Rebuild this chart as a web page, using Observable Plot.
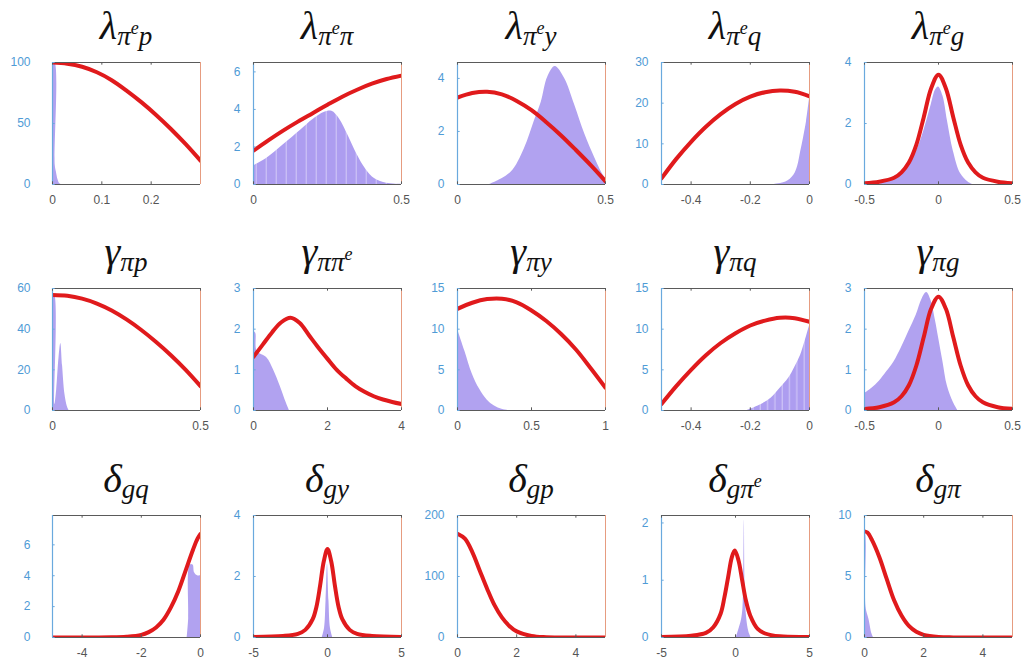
<!DOCTYPE html>
<html>
<head>
<meta charset="utf-8">
<script src="https://cdn.jsdelivr.net/npm/d3@7"></script>
<script src="https://cdn.jsdelivr.net/npm/@observablehq/plot@0.6"></script>
<style>
  body { margin: 0; background: #fff; }
  #fig { position: relative; width: 1029px; height: 669px; overflow: hidden; background: #fff; }
  #fig > svg.panel { position: absolute; }
  #titles { position: absolute; left: 0; top: 0; pointer-events: none; }
  #titles text { font-family: "Liberation Serif", serif; font-style: italic; }
</style>
</head>
<body>
<!-- stripe fills used for the binned histograms -->
<svg width="0" height="0" style="position:absolute">
  <defs>
    <pattern id="bins10" patternUnits="userSpaceOnUse" width="10" height="10">
      <rect width="10" height="10" fill="#ad9df0"></rect>
      <rect x="8.6" width="1.4" height="10" fill="#c8bdf5"></rect>
    </pattern>
    <pattern id="bins7" patternUnits="userSpaceOnUse" width="7.3" height="10">
      <rect width="7.3" height="10" fill="#ad9df0"></rect>
      <rect x="6" width="1.3" height="10" fill="#cbc1f6"></rect>
    </pattern>
  </defs>
</svg>
<div id="fig"></div>
<script>
// ---- Panel titles: base symbol and subscript tokens ("^" marks a superscript) ----
const titleBase = ["λ", "λ", "λ", "λ", "λ", "γ", "γ", "γ", "γ", "γ", "δ", "δ", "δ", "δ", "δ"];
const titleSub = [
  ["π", "^e", "p"], ["π", "^e", "π"], ["π", "^e", "y"], ["π", "^e", "q"], ["π", "^e", "g"],
  ["π", "p"], ["π", "π", "^e"], ["π", "y"], ["π", "q"], ["π", "g"],
  ["g", "q"], ["g", "y"], ["g", "p"], ["g", "π", "^e"], ["g", "π"]
];

// ---- Axis limits and ticks ----
const xDomains = [
  [0, 0.3], [0, 0.5], [0, 0.5], [-0.5, 0], [-0.5, 0.5],
  [0, 0.5], [0, 4], [0, 1], [-0.5, 0], [-0.5, 0.5],
  [-5, 0], [-5, 5], [0, 5], [-5, 5], [0, 5]
];
const yDomains = [
  [0, 100], [0, 6.5], [0, 4.6], [0, 30], [0, 4],
  [0, 60], [0, 3], [0, 15], [0, 15], [0, 3],
  [0, 7.9], [0, 4], [0, 200], [0, 2.13], [0, 10]
];
const xTicks = [
  [0, 0.1, 0.2], [0, 0.5], [0, 0.5], [-0.4, -0.2, 0], [-0.5, 0, 0.5],
  [0, 0.5], [0, 2, 4], [0, 0.5, 1], [-0.4, -0.2, 0], [-0.5, 0, 0.5],
  [-4, -2, 0], [-5, 0, 5], [0, 2, 4], [-5, 0, 5], [0, 2, 4]
];
const yTicks = [
  [0, 50, 100], [0, 2, 4, 6], [0, 2, 4], [0, 10, 20, 30], [0, 2, 4],
  [0, 20, 40, 60], [0, 1, 2, 3], [0, 5, 10, 15], [0, 5, 10, 15], [0, 1, 2, 3],
  [0, 2, 4, 6], [0, 2, 4], [0, 100, 200], [0, 1, 2], [0, 5, 10]
];

// ---- Prior densities (red curves), [x, density] ----
const priorLambdaPiEP = [[0,100],[0.03,99],[0.06,96.5],[0.09,92],[0.12,85.5],[0.15,77],[0.18,67.5],[0.21,57],[0.24,45.5],[0.27,33],[0.3,19.5]];
const priorLambdaPiEPi = [[0,1.8],[0.05,2.35],[0.1,2.87],[0.15,3.35],[0.2,3.8],[0.25,4.25],[0.3,4.68],[0.35,5.05],[0.4,5.37],[0.45,5.62],[0.5,5.8]];
const priorLambdaPiEY = [[0,3.28],[0.05,3.45],[0.1,3.5],[0.15,3.4],[0.2,3.15],[0.25,2.8],[0.3,2.35],[0.35,1.85],[0.4,1.3],[0.45,0.73],[0.5,0.12]];
const priorLambdaPiEQ = [[-0.5,1.5],[-0.45,6.3],[-0.4,10.5],[-0.35,14.2],[-0.3,17.3],[-0.25,19.8],[-0.2,21.6],[-0.15,22.7],[-0.1,23.1],[-0.05,22.8],[0,21.7]];
const priorLambdaPiEG = [[-0.5,0.04],[-0.4,0.09],[-0.3,0.22],[-0.25,0.4],[-0.2,0.72],[-0.15,1.3],[-0.1,2.2],[-0.05,3.15],[0,3.6],[0.05,3.15],[0.1,2.2],[0.15,1.3],[0.2,0.72],[0.25,0.4],[0.3,0.22],[0.4,0.09],[0.5,0.04]];
const priorGammaPiP = [[0,56.8],[0.05,56.4],[0.1,55],[0.15,52.6],[0.2,49.2],[0.25,44.8],[0.3,39.6],[0.35,33.7],[0.4,27.2],[0.45,20],[0.5,12]];
const priorGammaPiPiE = [[0,1.32],[0.25,1.62],[0.5,1.92],[0.75,2.17],[1,2.28],[1.25,2.15],[1.5,1.85],[1.75,1.55],[2,1.27],[2.25,1],[2.5,0.79],[2.75,0.6],[3,0.46],[3.25,0.35],[3.5,0.27],[3.75,0.21],[4,0.16]];
const priorGammaPiY = [[0,12.5],[0.1,13.25],[0.2,13.7],[0.3,13.75],[0.4,13.3],[0.5,12.3],[0.6,11],[0.7,9.4],[0.8,7.5],[0.9,5.2],[1,2.8]];
const priorGammaPiQ = [[-0.5,0.8],[-0.45,3],[-0.4,5],[-0.35,6.8],[-0.3,8.3],[-0.25,9.5],[-0.2,10.45],[-0.15,11.05],[-0.1,11.4],[-0.05,11.35],[0,10.9]];
const priorGammaPiG = [[-0.5,0.04],[-0.4,0.08],[-0.3,0.2],[-0.25,0.35],[-0.2,0.62],[-0.15,1.1],[-0.1,1.8],[-0.05,2.5],[0,2.8],[0.05,2.5],[0.1,1.8],[0.15,1.1],[0.2,0.62],[0.25,0.35],[0.3,0.2],[0.4,0.08],[0.5,0.04]];
const priorDeltaGQ = [[-5,0],[-3,0.01],[-2.5,0.05],[-2,0.17],[-1.75,0.35],[-1.5,0.65],[-1.25,1.15],[-1,1.95],[-0.75,3],[-0.5,4.35],[-0.25,5.7],[-0.1,6.4],[0,6.7]];
const priorDeltaGY = [[-5,0.02],[-3,0.05],[-2,0.12],[-1.5,0.25],[-1,0.6],[-0.75,1],[-0.5,1.7],[-0.25,2.5],[0,2.9],[0.25,2.5],[0.5,1.7],[0.75,1],[1,0.6],[1.5,0.25],[2,0.12],[3,0.05],[5,0.02]];
const priorDeltaGP = [[0,170],[0.25,162],[0.5,140],[0.75,110],[1,80],[1.25,53],[1.5,33],[1.75,19],[2,10],[2.5,2.5],[3,0.5],[4,0],[5,0]];
const priorDeltaGPiE = [[-5,0.01],[-3,0.03],[-2,0.08],[-1.5,0.18],[-1,0.42],[-0.75,0.7],[-0.5,1.05],[-0.25,1.4],[-0.05,1.52],[0.2,1.35],[0.45,1],[0.7,0.65],[1,0.38],[1.5,0.15],[2,0.07],[3,0.02],[5,0.01]];
const priorDeltaGPi = [[0,8.7],[0.1,8.6],[0.25,8],[0.5,6.6],[0.75,4.8],[1,3.05],[1.25,1.8],[1.5,0.95],[1.75,0.47],[2,0.22],[2.5,0.05],[3,0.01],[5,0]];

// ---- Posterior draws (histogram outlines), [x, density] ----
const postLambdaPiEP = [[0,100],[0.005,100],[0.0055,16],[0.008,10],[0.011,4],[0.014,1],[0.017,0]];
const postLambdaPiEPi = [[0,1],[0.045,1.4],[0.1,2.1],[0.16,2.9],[0.2,3.45],[0.24,3.85],[0.265,3.9],[0.29,3.5],[0.32,2.6],[0.35,1.6],[0.38,0.8],[0.41,0.3],[0.45,0.06],[0.5,0]];
const postLambdaPiEY = [[0.11,0],[0.18,0.45],[0.226,1.35],[0.26,2.4],[0.283,3.1],[0.305,4.05],[0.33,4.45],[0.362,4],[0.396,3],[0.43,1.9],[0.464,1],[0.49,0.4],[0.5,0.25]];
const postLambdaPiEQ = [[-0.12,0],[-0.08,0.6],[-0.053,2.3],[-0.04,4.5],[-0.03,8],[-0.02,11.5],[-0.01,15.5],[0,21]];
const postLambdaPiEG = [[-0.4,0],[-0.3,0.25],[-0.25,0.42],[-0.2,0.7],[-0.15,1.08],[-0.1,1.75],[-0.05,2.6],[-0.02,3.1],[0,3.2],[0.03,2.9],[0.06,2.1],[0.1,1.1],[0.15,0.35],[0.2,0.08],[0.23,0]];
const postGammaPiP = [[0,57],[0.007,57],[0.008,3],[0.014,10],[0.022,26],[0.028,33],[0.034,22],[0.042,8],[0.05,2],[0.056,0]];
const postGammaPiPiE = [[0,1.95],[0.06,1.9],[0.1,1.45],[0.36,1.3],[0.54,1],[0.72,0.6],[0.85,0.27],[0.97,0]];
const postGammaPiY = [[0,10],[0.05,7.3],[0.1,4.5],[0.15,2.6],[0.2,1.3],[0.25,0.55],[0.3,0.15],[0.34,0]];
const postGammaPiQ = [[-0.21,0],[-0.17,0.6],[-0.13,1.5],[-0.1,2.7],[-0.07,4],[-0.05,5.3],[-0.03,6.8],[-0.015,8.5],[0,10.4]];
const postGammaPiG = [[-0.5,0.42],[-0.45,0.55],[-0.4,0.72],[-0.35,0.95],[-0.3,1.2],[-0.25,1.55],[-0.2,1.95],[-0.15,2.35],[-0.11,2.75],[-0.08,2.9],[-0.05,2.7],[-0.02,2.2],[0,1.8],[0.03,1.2],[0.06,0.6],[0.1,0.2],[0.13,0]];
const postDeltaGQ = [[-0.45,0],[-0.4,1.2],[-0.35,4.7],[-0.25,4.7],[-0.2,4.2],[-0.1,4],[0,4]];
const postDeltaGY = [[-0.35,0],[-0.2,0.3],[-0.1,1.2],[0,2.4],[0.1,1.2],[0.2,0.3],[0.35,0]];
const postDeltaGP = [[0,0],[0.02,0]];
const postDeltaGPiE = [[0.05,0],[0.2,0.12],[0.4,0.3],[0.5,0.5],[0.55,1],[0.6,2.05],[0.65,0.9],[0.75,0.35],[0.9,0.1],[1.05,0]];
const postDeltaGPi = [[0,8.5],[0.03,8.5],[0.05,2.5],[0.15,1.5],[0.25,0.3],[0.3,0]];

const priors = [
  priorLambdaPiEP, priorLambdaPiEPi, priorLambdaPiEY, priorLambdaPiEQ, priorLambdaPiEG,
  priorGammaPiP, priorGammaPiPiE, priorGammaPiY, priorGammaPiQ, priorGammaPiG,
  priorDeltaGQ, priorDeltaGY, priorDeltaGP, priorDeltaGPiE, priorDeltaGPi
];
const posteriors = [
  postLambdaPiEP, postLambdaPiEPi, postLambdaPiEY, postLambdaPiEQ, postLambdaPiEG,
  postGammaPiP, postGammaPiPiE, postGammaPiY, postGammaPiQ, postGammaPiG,
  postDeltaGQ, postDeltaGY, postDeltaGP, postDeltaGPiE, postDeltaGPi
];

// ---- Styling ----
const histFill = "#b1a2f0";
const histFills = [histFill, "url(#bins10)", histFill, histFill, histFill,
                   histFill, histFill, histFill, "url(#bins7)", histFill,
                   histFill, histFill, histFill, histFill, histFill];
const priorRed = "#e01a1c";
const leftAxisBlue = "#6aa9de";
const leftLabelBlue = "#4f9bd6";
const rightAxisOrange = "#e69c80";
const boxGray = "#5a5a5a";
const xLabelGray = "#555";

// ---- Layout of the 3 x 5 grid (plot-area boxes) ----
const colLeft = [52, 253, 457, 661, 864];
const rowTop = [62, 288, 515];
const PW = 148, PH = 122;
const mL = 46, mR = 8, mT = 8, mB = 30;

const fig = document.getElementById("fig");
const fmt = d => String(d);

for (let i = 0; i < 15; i++) {
  const r = Math.floor(i / 5), c = i % 5;
  const [x0, x1] = xDomains[i];
  const [y0, y1] = yDomains[i];
  const prior = priors[i].map(([x, y]) => ({x, y}));
  const post = posteriors[i].map(([x, y]) => ({x, y}));
  const tx = (x1 - x0) * 0.018, ty = (y1 - y0) * 0.022;

  const chart = Plot.plot({
    width: PW + mL + mR,
    height: PH + mT + mB,
    marginLeft: mL, marginRight: mR, marginTop: mT, marginBottom: mB,
    x: {domain: xDomains[i]},
    y: {domain: yDomains[i]},
    style: {background: "transparent", fontFamily: "'Liberation Sans', Arial, sans-serif", fontSize: "12px", overflow: "visible"},
    marks: [
      Plot.areaY(post, {x: "x", y: "y", fill: histFills[i], curve: "catmull-rom", clip: true}),
      Plot.line(prior, {x: "x", y: "y", stroke: priorRed, strokeWidth: 4, curve: "catmull-rom", clip: true}),
      // box: top/bottom in gray, left axis blue, right axis orange
      Plot.ruleY([y0], {stroke: boxGray, strokeWidth: 1}),
      Plot.ruleY([y1], {stroke: boxGray, strokeWidth: 1}),
      Plot.ruleX([x0], {stroke: leftAxisBlue, strokeWidth: 1.2}),
      Plot.ruleX([x1], {stroke: rightAxisOrange, strokeWidth: 1}),
      // inward tick marks
      Plot.ruleX(xTicks[i], {x: d => d, y1: y0, y2: y0 + ty, stroke: boxGray}),
      Plot.ruleX(xTicks[i], {x: d => d, y1: y1, y2: y1 - ty, stroke: boxGray}),
      Plot.ruleY(yTicks[i], {y: d => d, x1: x0, x2: x0 + tx, stroke: leftAxisBlue}),
      Plot.axisX(xTicks[i], {tickSize: 0, tickPadding: 11, tickFormat: fmt, fill: xLabelGray, label: null}),
      Plot.axisY(yTicks[i], {tickSize: 0, tickPadding: c === 0 ? 22 : 13, tickFormat: fmt, fill: leftLabelBlue, label: null})
    ]
  });
  chart.classList.add("panel");
  chart.style.left = (colLeft[c] - mL) + "px";
  chart.style.top = (rowTop[r] - mT) + "px";
  fig.appendChild(chart);
}

// ---- Titles, drawn as SVG text with sub/superscripts ----
const ns = "http://www.w3.org/2000/svg";
const tsvg = document.createElementNS(ns, "svg");
tsvg.setAttribute("id", "titles");
tsvg.setAttribute("width", 1029);
tsvg.setAttribute("height", 669);
fig.appendChild(tsvg);

const baseSize = 40, subSize = 27, supSize = 18;
const levelOffset = [0, 6, -5];   // baseline shift for base, subscript, superscript
for (let i = 0; i < 15; i++) {
  const r = Math.floor(i / 5), c = i % 5;
  const text = document.createElementNS(ns, "text");
  text.setAttribute("x", colLeft[c] + PW / 2);
  text.setAttribute("y", rowTop[r] - 23);
  text.setAttribute("text-anchor", "middle");
  text.setAttribute("fill", "#111");
  const base = document.createElementNS(ns, "tspan");
  base.setAttribute("font-size", baseSize);
  base.textContent = titleBase[i];
  text.appendChild(base);
  let level = 0;
  for (const tok of titleSub[i]) {
    const sup = tok.startsWith("^");
    const next = sup ? 2 : 1;
    const span = document.createElementNS(ns, "tspan");
    span.setAttribute("font-size", sup ? supSize : subSize);
    span.setAttribute("dy", levelOffset[next] - levelOffset[level]);
    span.textContent = sup ? tok.slice(1) : tok;
    text.appendChild(span);
    level = next;
  }
  tsvg.appendChild(text);
}
</script>
</body>
</html>
